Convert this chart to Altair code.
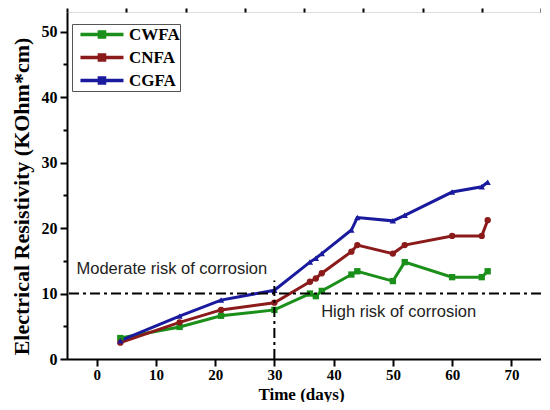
import altair as alt
import pandas as pd

days = [4, 14, 21, 30, 36, 37, 38, 43, 44, 50, 52, 60, 65, 66]
cwfa = [3.2, 4.9, 6.6, 7.5, 10.0, 9.6, 10.4, 12.9, 13.4, 11.9, 14.8, 12.5, 12.5, 13.4]
cnfa = [2.5, 5.6, 7.5, 8.6, 11.8, 12.3, 13.1, 16.4, 17.4, 16.1, 17.4, 18.8, 18.8, 21.2]
cgfa = [2.8, 6.55, 9.0, 10.5, 14.8, 15.4, 16.1, 19.7, 21.6, 21.1, 21.95, 25.5, 26.3, 27.0]
series = ["CWFA", "CNFA", "CGFA"]
colors = ["#1a8f1a", "#8b1a1a", "#1a1a9e"]
shapes = ["square", "circle", "triangle-up"]

x_major = [0, 10, 20, 30, 40, 50, 60, 70]
x_minor = [-5, 5, 15, 25, 35, 45, 55, 65, 75]

threshold = 10
split_day = 30
split_top = 12
notes = ["Moderate risk of corrosion", "High risk of corrosion"]
note_x = [-3.4, 37.9]
note_y = [12.96, 6.35]

rows = []
for name, vals in zip(series, [cwfa, cnfa, cgfa]):
    for d, v in zip(days, vals):
        rows.append({"day": d, "value": v, "series": name, "marker": name})
df = pd.DataFrame(rows)

xscale = alt.Scale(domain=[-5, 75], nice=False, zero=False)
yscale = alt.Scale(domain=[0, 53], nice=False, zero=False)

serif = "Liberation Serif"
major = "datum.value % 10 === 0"

xaxis = alt.Axis(
    values=x_major, tickSize=7,
    labelOverlap=False, labelFlush=False,
    title="Time (days)", titleFont=serif, titleFontSize=17, titleFontWeight="bold",
    titleX=234, titleY=35, titleBaseline="middle",
    labelFont=serif, labelFontSize=15, labelFontWeight="bold", labelPadding=1,
    labelColor="black", titleColor="black",
    grid=False, domainColor="black", domainWidth=2, tickColor="black", tickWidth=2,
)
xaxis_minor = alt.Axis(
    values=x_minor, tickSize=4, labels=False, domain=False, title=None,
    grid=False, tickColor="black", tickWidth=2,
)
yaxis = alt.Axis(
    values=list(range(0, 51, 5)),
    labelExpr="datum.value % 10 === 0 ? datum.label : ''",
    labelOverlap=False,
    tickSize={"condition": {"test": major, "value": 7}, "value": 4},
    title="Electrical Resistivity (KOhm*cm)", titleFont=serif, titleFontSize=22,
    titleFontWeight="bold", titleX=-46, titleY=184, titleBaseline="middle",
    labelFont=serif, labelFontSize=16, labelFontWeight="bold", labelPadding=3,
    labelColor="black", titleColor="black",
    grid=False, domainColor="black", domainWidth=2, tickColor="black", tickWidth=2,
)

color = alt.Color(
    "series:N",
    scale=alt.Scale(domain=series, range=colors),
    legend=alt.Legend(
        title=None, orient="none", legendX=5, legendY=12,
        symbolType="M-0.24,0H4.82M1.99,-0.3H2.59V0.3H1.99Z",
        symbolSize=289, symbolStrokeWidth=3.5,
        labelFont=serif, labelFontSize=17, labelFontWeight="bold", labelColor="black",
        labelOffset=36, rowPadding=2, padding=0,
        strokeColor="#555555", fillColor="white",
    ),
)

lines = alt.Chart(df).mark_line(strokeWidth=3).encode(
    x=alt.X("day:Q", scale=xscale, axis=xaxis),
    y=alt.Y("value:Q", scale=yscale, axis=yaxis),
    color=color, detail="series:N",
)
points = alt.Chart(df).mark_point(filled=True, size=40, opacity=1).encode(
    x=alt.X("day:Q", scale=xscale, axis=xaxis_minor),
    y=alt.Y("value:Q", scale=yscale, axis=yaxis),
    color=alt.Color("marker:N", scale=alt.Scale(domain=series, range=colors), legend=None),
    shape=alt.Shape("marker:N", scale=alt.Scale(domain=series, range=shapes), legend=None),
)

hline = alt.Chart(pd.DataFrame({"y": [threshold]})).mark_rule(
    color="black", strokeWidth=2, strokeDash=[10, 4, 3, 4]
).encode(y=alt.Y("y:Q", scale=yscale, axis=yaxis))

vline = alt.Chart(pd.DataFrame({"x": [split_day], "y0": [0], "y1": [split_top]})).mark_rule(
    color="black", strokeWidth=2, strokeDash=[10, 4, 3, 4]
).encode(x=alt.X("x:Q", scale=xscale, axis=None),
         y=alt.Y("y0:Q", scale=yscale, axis=yaxis), y2="y1:Q")

texts = alt.Chart(pd.DataFrame({"x": note_x, "y": note_y, "t": notes})).mark_text(
    align="left", baseline="alphabetic", font="Liberation Sans", fontSize=16.5, color="#222222"
).encode(x=alt.X("x:Q", scale=xscale, axis=None),
         y=alt.Y("y:Q", scale=yscale, axis=yaxis), text="t:N")

chart = alt.layer(lines, points, hline, vline, texts).resolve_scale(
    color="independent", shape="independent"
).resolve_axis(x="independent").properties(
    width=474, height=347,
    autosize=alt.AutoSizeParams(type="none"),
    padding={"left": 59, "top": 4, "right": 0, "bottom": 43},
).configure_view(stroke="black", strokeWidth=2).configure(background="white")

chart.save("out.html", embed_options={"renderer": "svg", "actions": False})
